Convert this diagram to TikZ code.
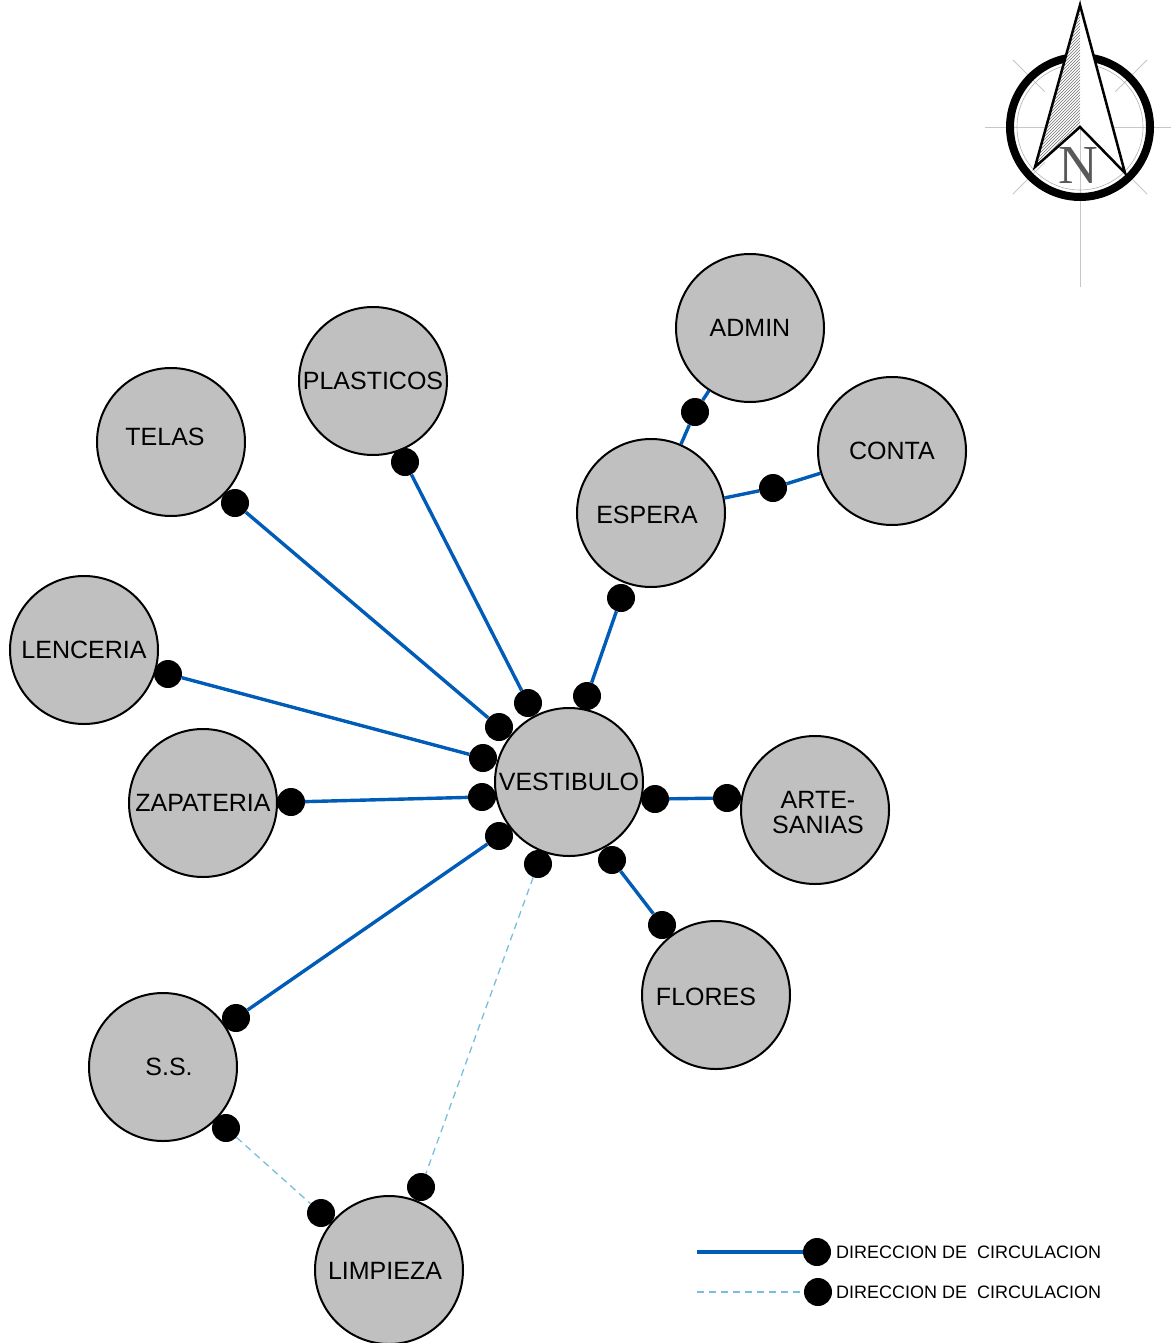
\documentclass[tikz,border=0pt]{standalone}
\usepackage{fontspec}
\setmainfont{Liberation Sans}
\newfontfamily\serifN{Liberation Serif}
\usetikzlibrary{patterns}
\definecolor{roomgray}{RGB}{192,192,192}
\definecolor{flowblue}{RGB}{0,92,182}
\definecolor{lightflow}{RGB}{120,190,222}
\tikzset{
  room/.style={circle, draw=black, line width=2pt, fill=roomgray, minimum size=148pt, inner sep=0pt, align=center, font=\fontsize{25}{25}\selectfont},
  roomlabel/.style={font=\fontsize{25}{25}\selectfont, inner sep=0pt, align=center},
  dot/.style={circle, fill=black, minimum size=28pt, inner sep=0pt},
  flow/.style={draw=flowblue, line width=3.4pt},
  service/.style={draw=lightflow, line width=1.3pt, dash pattern=on 7pt off 5pt},
  legendtext/.style={anchor=west, inner sep=0pt, font=\fontsize{18}{18}\selectfont},
  guide/.style={black!22, line width=0.8pt}
}
\begin{document}
\begin{tikzpicture}[x=1pt,y=-1pt]
\useasboundingbox (0,0) rectangle (1171,1343);
% north arrow
\draw[guide] (985,127) -- (1171,127);
\draw[guide] (1080,0) -- (1080,287);
\draw[guide] (1080,127) ++(135:95) -- ++(-45:45);
\draw[guide] (1080,127) ++(45:95) -- ++(-135:45);
\draw[guide] (1080,127) ++(-135:95) -- ++(45:45);
\draw[guide] (1080,127) ++(-45:95) -- ++(135:45);
\draw[black!30, line width=0.6pt] (1080,127) circle[radius=63];
\draw[black, line width=8pt] (1080,127) circle[radius=70];
\fill[white] (1080,5) -- (1125,173) -- (1080,127) -- (1035,167) -- cycle;
\fill[pattern=north east lines, pattern color=black!55] (1080,5) -- (1080,127) -- (1035,167) -- cycle;
\draw[black, line width=2.5pt, line join=miter] (1080,5) -- (1125,173) -- (1080,127) -- (1035,167) -- cycle;
\node[text=black!65, font=\serifN\fontsize{55}{55}\selectfont, inner sep=0pt] (nletter) at (1078,165) {N};
% rooms
\node[room] (admin) at (750,328) {ADMIN};
\node[room] (conta) at (892,451) {CONTA};
\node[room] (espera) at (651,513) {};
\node[room] (plast) at (373,381) {PLASTICOS};
\node[room] (telas) at (171,442) {};
\node[room] (lenc) at (84,650) {LENCERIA};
\node[room] (zapa) at (203,803) {ZAPATERIA};
\node[room] (vest) at (569,782) {VESTIBULO};
\node[room] (arte) at (815,810) {};
\node[room] (flores) at (716,995) {};
\node[room] (ss) at (163,1067) {};
\node[room] (limp) at (389,1270) {};
% room labels set slightly off centre, as printed
\node[roomlabel] (esperaT) at ([shift={(-4,2)}]espera.center) {ESPERA};
\node[roomlabel] (telasT) at ([shift={(-6,-5)}]telas.center) {TELAS};
\node[roomlabel] (arteT) at ([shift={(3,3)}]arte.center) {ARTE-\\SANIAS};
\node[roomlabel] (floresT) at ([shift={(-10,2)}]flores.center) {FLORES};
\node[roomlabel] (ssT) at ([shift={(6,0)}]ss.center) {S.S.};
\node[roomlabel] (limpT) at ([shift={(-4,1)}]limp.center) {LIMPIEZA};
% dots
\node[dot] (dA) at (695,412) {};
\node[dot] (dC) at (773,488) {};
\node[dot] (dE1) at (621,598) {};
\node[dot] (dE2) at (587,696) {};
\node[dot] (dP1) at (405,462) {};
\node[dot] (dP2) at (528,703) {};
\node[dot] (dT1) at (235,503) {};
\node[dot] (dT2) at (499,727) {};
\node[dot] (dL1) at (168,674) {};
\node[dot] (dL2) at (483,758) {};
\node[dot] (dZ1) at (291,802) {};
\node[dot] (dZ2) at (482,797) {};
\node[dot] (dS1) at (499,836) {};
\node[dot] (dS2) at (236,1018) {};
\node[dot] (dV1) at (538,864) {};
\node[dot] (dV2) at (421,1187) {};
\node[dot] (dK1) at (226,1128) {};
\node[dot] (dK2) at (321,1213) {};
\node[dot] (dR1) at (655,799) {};
\node[dot] (dR2) at (727,798) {};
\node[dot] (dF1) at (612,860) {};
\node[dot] (dF2) at (662,925) {};
% connectors
\draw[flow] (espera) -- (dA) -- (admin);
\draw[flow] (espera) -- (dC) -- (conta);
\draw[flow] (dE1) -- (dE2);
\draw[flow] (dP1) -- (dP2);
\draw[flow] (dT1) -- (dT2);
\draw[flow] (dL1) -- (dL2);
\draw[flow] (dZ1) -- (dZ2);
\draw[flow] (dS1) -- (dS2);
\draw[flow] (dR1) -- (dR2);
\draw[flow] (dF1) -- (dF2);
\draw[service] (dV1) -- (dV2);
\draw[service] (dK1) -- (dK2);
% legend
\coordinate (lg1) at (697,1252);
\coordinate (lg2) at (697,1292);
\node[dot] (lgd1) at (817,1252) {};
\node[dot] (lgd2) at (818,1292) {};
\draw[flow] (lg1) -- (lgd1);
\draw[service] (lg2) -- (lgd2);
\node[legendtext] (lgt1) at (836,1252) {DIRECCION DE~~CIRCULACION};
\node[legendtext] (lgt2) at (836,1292) {DIRECCION DE~~CIRCULACION};
\end{tikzpicture}
\end{document}
